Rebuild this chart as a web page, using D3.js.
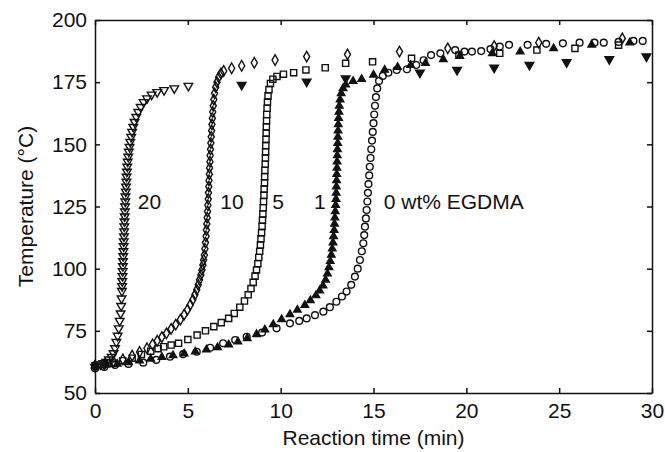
<!DOCTYPE html>
<html>
<head>
<meta charset="utf-8">
<script src="https://cdn.jsdelivr.net/npm/d3@7"></script>
<style>
  body { margin: 0; background: #fff; }
  text { font-family: "Liberation Sans", Arial, Helvetica, sans-serif; fill: #111; }
</style>
</head>
<body>
<div id="chart"></div>
<script>
const margin = { top: 20, right: 13, bottom: 59, left: 95 },
  width = 665 - margin.left - margin.right,
  height = 452 - margin.top - margin.bottom;

// tick labels
const xTicks = [0, 5, 10, 15, 20, 25, 30];
const yTicks = [50, 75, 100, 125, 150, 175, 200];

// series labels (wt% EGDMA)
const labels = ["20", "10", "5", "1", "0 wt% EGDMA"];
const labelAt = [2.3, 6.75, 9.55, 11.8, 15.55];

// [reaction time (min), temperature (°C)]
const egdma20 = [[0,60.5],[0.15,61],[0.3,61.5],[0.45,62],[0.6,62.5],[0.75,63.5],[0.9,64.5],[1.0,66],[1.08,68],[1.15,70.5],
  [1.22,73],[1.28,76],[1.33,79],[1.38,82],[1.41,85],[1.43,88],[1.45,91],[1.46,93],[1.47,95],[1.48,97],[1.49,99],[1.5,101],
  [1.51,103],[1.52,105],[1.53,107],[1.54,109],[1.55,111],[1.56,113],[1.57,115],[1.58,117],[1.59,119],[1.6,121],[1.61,123],
  [1.62,125],[1.63,127],[1.64,129],[1.66,131],[1.67,133],[1.69,135],[1.7,137],[1.72,139],[1.74,141],[1.76,143],[1.79,145],
  [1.82,147],[1.86,149],[1.9,151],[1.95,153],[2.0,155],[2.06,157],[2.13,159],[2.22,161],[2.33,163],[2.46,165],[2.62,167],
  [2.8,168.5],[3.05,170],[3.35,171],[3.72,171.8],[4.27,172.5],[5.03,173.5]];
const egdma20late = [[7.9,173.9],[11.4,175.2],[13.5,176.5],[17.5,178.8],[19.5,179.9],[21.5,180.8],[23.4,181.9],
  [25.4,183],[27.7,184.2],[29.7,185.3]];

const egdma10 = [[0,61],[0.5,61.5],[1.0,62.5],[1.5,63.5],[2.0,65],[2.4,66.5],[2.8,68],[3.1,69.5],[3.35,71],[3.6,72.5],
  [3.85,74],[4.1,75.8],[4.35,77.5],[4.6,79.5],[4.8,81.5],[4.98,83.5],[5.13,85.5],[5.27,87.5],[5.38,89.5],[5.48,91.5],
  [5.56,93.5],[5.63,95.5],[5.7,97.5],[5.76,99.5],[5.81,101.5],[5.85,103.5],[5.89,105.5],[5.92,108],[5.95,110.5],[5.98,113],
  [6.0,115.5],[6.02,118],[6.04,120.5],[6.06,123],[6.08,125.5],[6.1,128],[6.11,130.5],[6.13,133],[6.14,135.5],[6.16,138],
  [6.17,140.5],[6.19,143],[6.2,145.5],[6.22,148],[6.24,150.5],[6.26,153],[6.28,155.5],[6.3,158],[6.32,160.5],[6.34,163],
  [6.37,165.5],[6.4,168],[6.44,170.5],[6.5,173],[6.57,175],[6.66,177],[6.78,178.5],[6.93,179.5],[7.36,180.6],[7.9,181.6],
  [8.58,182.8],[9.7,183.9],[11.4,185.3],[13.6,186.2],[16.4,187.3],[19.0,188.6],[21.5,189.5],[23.9,190.9],[28.4,192.6]];

const egdma5 = [[0,61],[0.5,61.5],[1.0,62],[1.5,63],[2.0,64],[2.5,65.5],[3.0,66.8],[3.4,67.8],[3.7,68.6],[4.1,69.3],
  [4.5,70],[5.0,71.5],[5.5,73.3],[5.95,75],[6.4,76.7],[6.8,78.3],[7.2,80],[7.5,82],[7.8,84.5],[8.05,87],[8.25,89.5],
  [8.4,92],[8.52,94.5],[8.62,97],[8.7,99.5],[8.77,102],[8.82,104.5],[8.87,107],[8.91,109.5],[8.94,112],[8.97,114.5],
  [9.0,117],[9.02,119.5],[9.04,122],[9.06,124.5],[9.08,127],[9.1,129.5],[9.11,132],[9.13,134.5],[9.14,137],[9.15,139.5],
  [9.17,142],[9.18,144.5],[9.19,147],[9.2,149.5],[9.21,152],[9.22,154.5],[9.23,157],[9.24,159.5],[9.25,162],[9.27,164.5],
  [9.29,167],[9.32,169.5],[9.37,172],[9.45,174.5],[9.58,176.2],[9.8,177.3],[10.15,178.2],[10.7,178.8],[11.36,179.9],
  [12.4,180.8],[13.5,182.6],[14.95,183.2],[17.05,184.6],[19.6,185.9],[21.8,186.6],[23.8,187.9],[25.85,188.6],[28.2,189.9]];

const egdma1 = [[0,61],[0.6,61.3],[1.2,61.7],[1.8,62.3],[2.4,63],[3.0,63.7],[3.6,64.4],[4.2,65.1],[4.8,65.8],[5.4,66.6],
  [6.0,67.4],[6.6,68.3],[7.2,69.4],[7.7,70.6],[8.2,72],[8.7,73.6],[9.15,75.5],[9.6,77.6],[10.05,79.6],[10.5,81.6],
  [10.9,83.4],[11.3,85.3],[11.6,87.2],[11.9,89.2],[12.1,91.2],[12.28,93.2],[12.42,95.5],[12.52,98],[12.6,100.5],
  [12.67,103],[12.73,105.5],[12.78,108],[12.82,110.5],[12.85,113],[12.88,115.5],[12.9,118],[12.92,120.5],[12.94,123],
  [12.96,125.5],[12.98,128],[12.99,130.5],[13.0,133],[13.01,135.5],[13.02,138],[13.03,140.5],[13.04,143],[13.05,145.5],
  [13.06,148],[13.07,150.5],[13.08,153],[13.09,155.5],[13.1,158],[13.12,160.5],[13.14,163],[13.16,165.5],[13.2,168],
  [13.26,170.5],[13.36,172.5],[13.5,174],[13.9,175.4],[14.36,176.2],[15.0,177.9],[15.6,179.9],[16.3,181],[17.0,181.8],
  [17.8,182.6],[18.76,184.2],[19.65,185.5],[21.4,186.6],[22.9,187.3],[24.7,188.6],[26.75,190],[28.8,190.9]];

const egdma0 = [[0,60],[0.5,60.5],[1.08,61.3],[1.8,61.7],[2.6,62.2],[3.3,63.3],[4.04,64.6],[4.75,65.6],[5.48,66.6],
  [6.2,68.2],[6.9,70],[7.55,71.3],[8.17,72.6],[9.0,74.3],[9.78,76],[10.5,78],[11.0,79],[11.4,80],[11.85,81.3],[12.3,82.7],
  [12.65,84.5],[13.0,86.7],[13.3,88.8],[13.55,90.8],[13.8,93.5],[14.0,96.8],[14.15,100],[14.27,103.5],[14.37,107],
  [14.45,110.2],[14.5,113.5],[14.54,116.9],[14.59,120.2],[14.63,123.6],[14.67,127],[14.7,130.5],[14.73,134],[14.77,137.5],
  [14.8,141],[14.84,144.5],[14.88,148],[14.92,151.5],[14.96,155],[15.0,158.5],[15.04,162],[15.08,165.5],[15.13,169],
  [15.2,172.5],[15.3,175.5],[15.5,177.5],[15.8,178.8],[16.25,179.9],[16.8,180.2],[17.3,181.9],[17.7,183.8],[18.1,185.9],
  [18.6,186.6],[19.4,187.9],[19.9,187.3],[20.3,187.3],[20.8,187.5],[21.3,188.3],[21.8,189.3],[22.3,190],[23.3,190],
  [24.3,190.4],[25.2,190.6],[26.1,190.9],[26.9,190.9],[27.4,190.9],[28.2,191.2],[29.0,191.6],[29.5,191.6]];

// set the ranges
const x = d3.scaleLinear().domain([0, 30]).range([0, width]);
const y = d3.scaleLinear().domain([50, 200]).range([height, 0]);

const svg = d3
  .select("#chart")
  .append("svg")
  .attr("width", width + margin.left + margin.right)
  .attr("height", height + margin.top + margin.bottom)
  .append("g")
  .attr("transform", "translate(" + margin.left + "," + margin.top + ")");

// marker sets: data, symbol, size, rotation, filled
const sets = [
  [egdma0, d3.symbolCircle, 36, 0, false],
  [egdma1, d3.symbolTriangle, 24, 0, true],
  [egdma5, d3.symbolSquare, 38, 0, false],
  [egdma10, d3.symbolDiamond, 32, 0, false],
  [egdma20, d3.symbolTriangle, 32, 180, false],
  [egdma20late, d3.symbolTriangle, 32, 180, true],
];

sets.forEach(function (s) {
  svg
    .append("g")
    .selectAll("path")
    .data(s[0])
    .enter()
    .append("path")
    .attr("d", d3.symbol(s[1], s[2]))
    .attr("transform", (d) => "translate(" + x(d[0]) + "," + y(d[1]) + ") rotate(" + s[3] + ")")
    .attr("fill", s[4] ? "#111" : "none")
    .attr("stroke", "#111")
    .attr("stroke-width", 1.4);
});

// axes, ticks pointing inward
const fontSize = "21px";
svg
  .append("g")
  .attr("transform", "translate(0," + height + ")")
  .call(d3.axisBottom(x).tickValues(xTicks).tickSizeInner(-5).tickSizeOuter(0).tickPadding(10))
  .call((g) => g.selectAll("text").style("font-size", fontSize));
svg
  .append("g")
  .call(d3.axisLeft(y).tickValues(yTicks).tickSizeInner(-5).tickSizeOuter(0).tickPadding(8))
  .call((g) => g.selectAll("text").style("font-size", fontSize));
svg
  .append("g")
  .call(d3.axisTop(x).tickValues(xTicks).tickSizeInner(-5).tickSizeOuter(0).tickFormat(""));
svg
  .append("g")
  .attr("transform", "translate(" + width + ",0)")
  .call(d3.axisRight(y).tickValues(yTicks).tickSizeInner(-5).tickSizeOuter(0).tickFormat(""));

svg.selectAll(".domain, .tick line").attr("stroke", "#111").attr("stroke-width", 1.5);
svg.selectAll(".tick text").attr("fill", "#111");

// series labels
svg
  .selectAll(".lab")
  .data(labels)
  .enter()
  .append("text")
  .attr("class", "lab")
  .attr("x", (d, i) => x(labelAt[i]))
  .attr("y", y(124))
  .style("font-size", fontSize)
  .text((d) => d);

// axis titles
svg
  .append("text")
  .attr("x", width / 2)
  .attr("y", height + 52)
  .attr("text-anchor", "middle")
  .style("font-size", fontSize)
  .text("Reaction time (min)");

svg
  .append("text")
  .attr("transform", "translate(" + -62 + "," + height / 2 + ") rotate(-90)")
  .attr("text-anchor", "middle")
  .style("font-size", fontSize)
  .text("Temperature (°C)");
</script>
</body>
</html>
